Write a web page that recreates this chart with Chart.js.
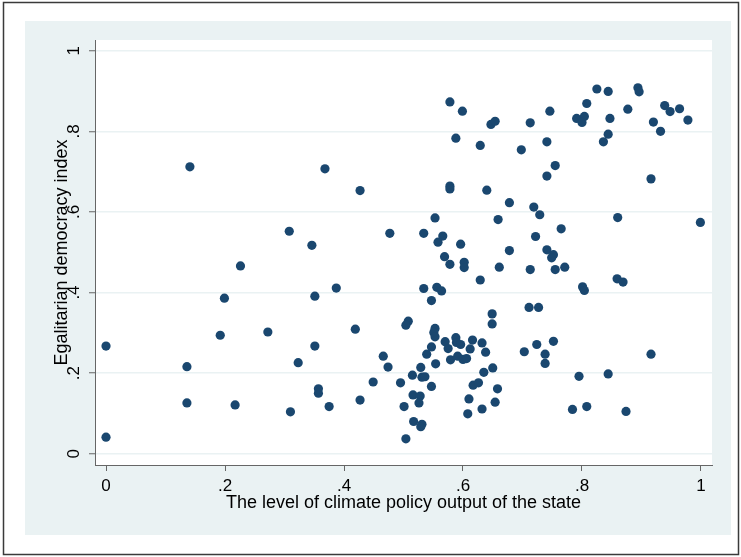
<!DOCTYPE html>
<html>
<head>
<meta charset="utf-8">
<script src="https://cdn.jsdelivr.net/npm/chart.js@4/dist/chart.umd.min.js"></script>
<style>
html,body{margin:0;padding:0;background:#fff;}
canvas{display:block;}
</style>
</head>
<body>
<canvas id="c" width="741" height="557"></canvas>
<script>
// Climate policy output (x) vs egalitarian democracy index (y)
const climatePolicy = [
0.141,0.308,0.578,0.599,0.647,0.654,0.588,0.629,0.368,0.427,
0.578,0.578,0.640,0.553,0.659,0.346,0.477,0.534,0.566,0.558,
0.596,0.825,0.844,0.894,0.896,0.808,0.746,0.877,0.939,0.948,
0.964,0.978,0.791,0.804,0.800,0.847,0.713,0.920,0.932,0.844,
0.836,0.741,0.698,0.755,0.741,0.916,0.678,0.719,0.729,0.860,
0.999,0.765,0.722,0.226,0.199,0.192,0.272,0.000,0.136,0.323,
0.136,0.217,0.310,0.000,0.569,0.578,0.602,0.602,0.629,0.661,
0.351,0.387,0.534,0.556,0.564,0.547,0.508,0.504,0.419,0.553,
0.551,0.553,0.588,0.589,0.596,0.570,0.575,0.616,0.632,0.612,
0.638,0.547,0.539,0.351,0.579,0.591,0.600,0.606,0.554,0.466,
0.474,0.529,0.515,0.531,0.536,0.635,0.650,0.449,0.495,0.547,
0.617,0.626,0.658,0.357,0.357,0.427,0.375,0.516,0.528,0.526,
0.501,0.610,0.654,0.608,0.632,0.517,0.531,0.529,0.504,0.678,
0.741,0.752,0.749,0.713,0.755,0.771,0.801,0.804,0.859,0.869,
0.649,0.649,0.711,0.727,0.724,0.752,0.703,0.738,0.738,0.916,
0.795,0.844,0.784,0.808,0.874
];
const democracyIndex = [
0.712,0.552,0.873,0.850,0.817,0.825,0.783,0.765,0.707,0.653,
0.664,0.657,0.654,0.585,0.581,0.517,0.547,0.547,0.540,0.525,
0.520,0.905,0.899,0.908,0.898,0.869,0.850,0.855,0.864,0.849,
0.856,0.828,0.832,0.837,0.822,0.832,0.821,0.823,0.800,0.793,
0.774,0.774,0.754,0.715,0.689,0.682,0.623,0.612,0.593,0.586,
0.574,0.558,0.539,0.466,0.386,0.294,0.302,0.267,0.216,0.226,
0.126,0.121,0.104,0.041,0.489,0.470,0.475,0.462,0.431,0.463,
0.391,0.411,0.410,0.413,0.404,0.380,0.329,0.319,0.309,0.311,
0.301,0.290,0.288,0.276,0.271,0.278,0.261,0.282,0.275,0.260,
0.252,0.265,0.247,0.267,0.233,0.242,0.234,0.236,0.223,0.242,
0.215,0.214,0.195,0.190,0.191,0.202,0.213,0.178,0.176,0.167,
0.170,0.176,0.161,0.161,0.150,0.133,0.117,0.146,0.143,0.126,
0.117,0.136,0.128,0.099,0.111,0.080,0.073,0.067,0.037,0.504,
0.506,0.494,0.486,0.457,0.457,0.463,0.414,0.405,0.434,0.426,
0.347,0.322,0.363,0.363,0.271,0.279,0.253,0.247,0.224,0.247,
0.192,0.198,0.110,0.117,0.105
];
const xTickValues = [0,0.2,0.4,0.6,0.8,1];
const xTickLabels = ['0','.2','.4','.6','.8','1'];
const yTickValues = [0,0.2,0.4,0.6,0.8,1];
const yTickLabels = ['0','.2','.4','.6','.8','1'];
const xTitle = 'The level of climate policy output of the state';
const yTitle = 'Egalitarian democracy index';

const FONT = "'Liberation Sans', Arial, Helvetica, sans-serif";
const points = climatePolicy.map((x,i)=>({x:x, y:democracyIndex[i]}));

const bgPlugin = {
  id:'bg',
  beforeDraw(chart){
    const ctx = chart.ctx, a = chart.chartArea;
    ctx.save();
    ctx.fillStyle='#ffffff';
    ctx.fillRect(0,0,chart.width,chart.height);
    ctx.strokeStyle='#3a3a3a';
    ctx.lineWidth=1.5;
    ctx.strokeRect(3.5,2.5,735,552);
    ctx.fillStyle='#eaf2f3';
    ctx.fillRect(25,21,706,514);
    ctx.fillStyle='#ffffff';
    ctx.fillRect(a.left,a.top,a.right-a.left,a.bottom-a.top);
    ctx.restore();
  },
  afterDraw(chart){
    const ctx = chart.ctx, ys = chart.scales.y;
    ctx.save();
    ctx.fillStyle='#000';
    ctx.font = "17px " + FONT;
    ctx.textAlign='center';
    ctx.textBaseline='middle';
    yTickValues.forEach((v,i)=>{
      const py = ys.getPixelForValue(v);
      ctx.save();
      ctx.translate(74, py);
      ctx.rotate(-Math.PI/2);
      ctx.fillText(yTickLabels[i],0,0);
      ctx.restore();
    });
    ctx.restore();
  }
};

new Chart(document.getElementById('c'), {
  type:'scatter',
  data:{datasets:[{
    data:points,
    backgroundColor:'#1a476f',
    borderWidth:0,
    pointRadius:4.6,
    pointHoverRadius:4.6
  }]},
  options:{
    responsive:false,
    animation:false,
    events:[],
    layout:{padding:{left:25,right:29,top:40,bottom:22}},
    plugins:{legend:{display:false},tooltip:{enabled:false}},
    scales:{
      x:{
        type:'linear',
        min:-0.0185, max:1.0185,
        afterBuildTicks(s){ s.ticks = xTickValues.map(v=>({value:v})); },
        afterFit(s){ s.height = 70; },
        ticks:{
          color:'#000',
          font:{family:FONT,size:17},
          padding:5,
          maxRotation:0,
          callback(v){ const i = xTickValues.findIndex(t=>Math.abs(t-v)<1e-9); return i>=0?xTickLabels[i]:''; }
        },
        grid:{drawOnChartArea:false, drawTicks:true, tickLength:6, tickColor:'#666', tickWidth:1},
        border:{display:true,color:'#666',width:1},
        title:{display:true,text:xTitle,color:'#000',font:{family:FONT,size:18},padding:{top:0,bottom:21}}
      },
      y:{
        type:'linear',
        min:-0.028, max:1.0266,
        afterBuildTicks(s){ s.ticks = yTickValues.map(v=>({value:v})); },
        afterFit(s){ s.width = 70; },
        ticks:{display:false},
        grid:{color:'#eaf2f3', lineWidth:1.5, drawTicks:true, tickLength:6, tickColor:'#666', tickWidth:1},
        border:{display:true,color:'#666',width:1},
        title:{display:true,text:yTitle,color:'#000',font:{family:FONT,size:18},padding:{top:26,bottom:0}}
      }
    }
  },
  plugins:[bgPlugin]
});
</script>
</body>
</html>
